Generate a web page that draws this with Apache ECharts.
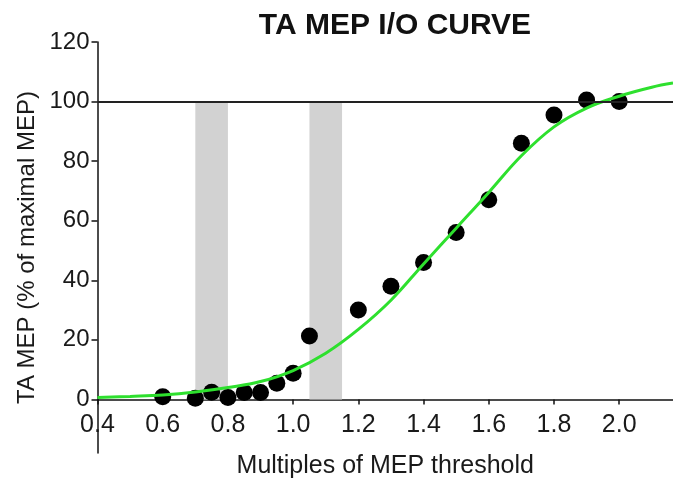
<!DOCTYPE html>
<html>
<head>
<meta charset="utf-8">
<script src="https://cdn.jsdelivr.net/npm/echarts@6/dist/echarts.min.js"></script>
<style>html,body{margin:0;padding:0;background:#fff}#c{width:673px;height:478px}</style>
</head>
<body>
<div id="c"></div>
<script>
// Measured points
var pointX = [0.6, 0.7, 0.75, 0.8, 0.85, 0.9, 0.95, 1.0, 1.05, 1.2, 1.3, 1.4, 1.5, 1.6, 1.7, 1.8, 1.9, 2.0];
var pointY = [0.9, 0.4, 2.4, 0.6, 2.3, 2.3, 5.4, 8.8, 21.3, 30, 38, 46, 56, 67, 86, 95.5, 100.5, 100];
// Fitted curve
var curveX = [0.4, 0.5, 0.6, 0.7, 0.8, 0.9, 1.0, 1.1, 1.2, 1.3, 1.4, 1.5, 1.6, 1.7, 1.8, 1.9, 2.0, 2.1, 2.165];
var curveY = [0.6, 1.0, 1.5, 2.5, 4.0, 6.0, 9.7, 15.5, 23.5, 33.3, 45.5, 57.5, 69.5, 81.8, 91.5, 97.8, 101.8, 104.8, 106.2];
// Shaded bands [from, to] on x, spanning 0..100 on y
var bands = [[0.7, 0.8], [1.05, 1.15]];
var refLevel = 100;
var xTicks = [0.4, 0.6, 0.8, 1.0, 1.2, 1.4, 1.6, 1.8, 2.0];
var yTicks = [0, 20, 40, 60, 80, 100, 120];

var FONT = "'Liberation Sans', Arial, Helvetica, sans-serif";
var TXT = '#1a1a1a';
var AX = '#111';

var chart = echarts.init(document.getElementById('c'), null, {renderer: 'canvas'});
chart.setOption({
  animation: false,
  backgroundColor: '#fff',
  title: {
    text: 'TA MEP I/O CURVE',
    left: 390, top: 6, textAlign: 'center',
    textStyle: {fontFamily: FONT, fontSize: 30, fontWeight: 'bold', color: '#111'}
  },
  grid: [
    // main plot: y from 0 to 120
    {left: 97.5, right: 0, top: 42, bottom: 78.6, containLabel: false, outerBoundsMode: 'none'},
    // full-height frame carrying the long y-axis line and its title
    {left: 97.5, right: 0, top: 42, bottom: 25, containLabel: false, outerBoundsMode: 'none'}
  ],
  xAxis: [
    {
      type: 'value', gridIndex: 0, min: 0.4, max: 2.165,
      name: 'Multiples of MEP threshold', nameLocation: 'middle', nameGap: 54,
      nameTextStyle: {fontFamily: FONT, fontSize: 25, color: TXT},
      axisLine: {onZero: false, lineStyle: {color: AX, width: 1.5}},
      axisTick: {show: true, length: 5, inside: false, customValues: xTicks, lineStyle: {color: AX, width: 1.5}},
      axisLabel: {customValues: xTicks, fontFamily: FONT, fontSize: 25, color: TXT, margin: 13,
        formatter: function (v) { return Number(v).toFixed(1); }},
      splitLine: {show: false}
    },
    {
      type: 'value', gridIndex: 1, min: 0, max: 1, show: false
    }
  ],
  yAxis: [
    {
      type: 'value', gridIndex: 0, min: 0, max: 120,
      axisLine: {show: false},
      axisTick: {show: true, length: 6, customValues: yTicks, lineStyle: {color: AX, width: 1.5}},
      axisLabel: {customValues: yTicks, fontFamily: FONT, fontSize: 24, color: TXT, margin: 8},
      splitLine: {show: false}
    },
    {
      type: 'value', gridIndex: 1, min: 0, max: 1,
      name: 'TA MEP (% of maximal MEP)', nameLocation: 'middle', nameGap: 58, nameRotate: 90,
      nameTextStyle: {fontFamily: FONT, fontSize: 24, color: TXT},
      axisLine: {show: true, onZero: false, lineStyle: {color: AX, width: 1.5}},
      axisTick: {show: false},
      axisLabel: {show: false},
      splitLine: {show: false}
    }
  ],
  series: [
    {
      type: 'line', data: [], z: 1, silent: true, xAxisIndex: 0, yAxisIndex: 0,
      markArea: {
        silent: true,
        itemStyle: {color: '#d2d2d2'},
        data: bands.map(function (b) { return [{xAxis: b[0], yAxis: 0}, {xAxis: b[1], yAxis: refLevel}]; })
      },
      markLine: {
        silent: true, symbol: 'none', label: {show: false},
        lineStyle: {color: '#222', width: 2, type: 'solid'},
        data: [{yAxis: refLevel}]
      }
    },
    {
      type: 'scatter', z: 3, symbol: 'circle', symbolSize: 17, xAxisIndex: 0, yAxisIndex: 0,
      itemStyle: {color: '#000', opacity: 1},
      data: pointX.map(function (x, i) { return [x, pointY[i]]; })
    },
    {
      type: 'line', z: 4, smooth: 0.4, showSymbol: false, symbol: 'none', xAxisIndex: 0, yAxisIndex: 0,
      lineStyle: {color: '#2ee02e', width: 3},
      data: curveX.map(function (x, i) { return [x, curveY[i]]; })
    }
  ]
});
</script>
</body>
</html>
